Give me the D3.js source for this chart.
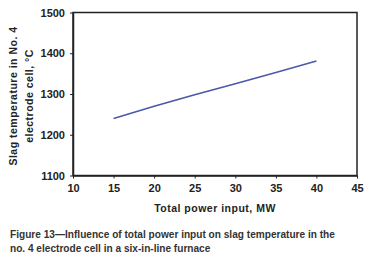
<!DOCTYPE html>
<html>
<head>
<meta charset="utf-8">
<script src="https://cdn.jsdelivr.net/npm/d3@7"></script>
<style>
  body { margin: 0; background: #fff; }
  svg { display: block; font-family: "Liberation Sans", Arial, sans-serif; }
</style>
</head>
<body>
<svg id="chart" width="370" height="266"></svg>
<script>
// power input, MW vs slag temperature, degC
var power = [15, 20, 25, 30, 35, 40];
var slagTemp = [1240, 1270, 1298, 1325, 1353, 1381];
var xTicks = [10, 15, 20, 25, 30, 35, 40, 45];
var yTicks = [1100, 1200, 1300, 1400, 1500];

var svg = d3.select("#chart");

var padding = {top: 12.5, right: 13, bottom: 90.5, left: 73};
var chartArea = {
    "width": 370 - padding.left - padding.right,
    "height": 266 - padding.top - padding.bottom
};

var xScale = d3.scaleLinear().domain([10, 45]).range([0, chartArea.width]);
var yScale = d3.scaleLinear().domain([1100, 1500]).range([chartArea.height, 0]);

var g = svg.append("g")
    .attr("transform", "translate(" + padding.left + "," + padding.top + ")");

// frame
g.append("rect")
    .attr("width", chartArea.width)
    .attr("height", chartArea.height)
    .attr("fill", "none")
    .attr("stroke", "#222")
    .attr("stroke-width", 1.5);

var xAxis = g.append("g")
    .attr("transform", "translate(0," + chartArea.height + ")")
    .call(d3.axisBottom(xScale).tickValues(xTicks).tickSize(3).tickPadding(6).tickSizeOuter(0));

var yAxis = g.append("g")
    .call(d3.axisLeft(yScale).tickValues(yTicks).tickFormat(d3.format("d"))
        .tickSize(3).tickPadding(5).tickSizeOuter(0));

[xAxis, yAxis].forEach(function (a) {
    a.select(".domain").attr("stroke", "#222").attr("stroke-width", 1.5);
    a.selectAll(".tick line").attr("stroke", "#222");
    a.selectAll(".tick text")
        .attr("fill", "#222")
        .style("font-size", "11px")
        .style("font-weight", "bold")
        .style("font-family", "'Liberation Sans', Arial, sans-serif");
});

var line = d3.line()
    .x(function (d, i) { return xScale(power[i]); })
    .y(function (d) { return yScale(d); });

g.append("path")
    .datum(slagTemp)
    .attr("d", line)
    .attr("fill", "none")
    .attr("stroke", "#4a58a8")
    .attr("stroke-width", 1.6);

// axis titles
svg.append("text")
    .attr("x", padding.left + chartArea.width / 2)
    .attr("y", 212)
    .attr("text-anchor", "middle")
    .attr("fill", "#222")
    .style("font-size", "10.5px")
    .style("font-weight", "bold")
    .style("letter-spacing", "0.5px")
    .text("Total power input, MW");

var yTitle = svg.append("text")
    .attr("transform", "translate(0," + (padding.top + chartArea.height / 2 + 2) + ") rotate(-90)")
    .attr("text-anchor", "middle")
    .attr("fill", "#222")
    .style("font-size", "10.5px")
    .style("font-weight", "bold")
    .style("letter-spacing", "0.5px");
yTitle.append("tspan").attr("x", 0).attr("y", 17).text("Slag temperature in No. 4");
yTitle.append("tspan").attr("x", 0).attr("y", 33).text("electrode cell, \u00B0C");

// caption, slightly condensed
var caption = svg.append("text")
    .attr("transform", "translate(10,0) scale(0.92,1)")
    .attr("fill", "#333")
    .style("font-size", "11px")
    .style("font-weight", "bold");
caption.append("tspan").attr("x", 0).attr("y", 238)
    .text("Figure 13\u2014Influence of total power input on slag temperature in the");
caption.append("tspan").attr("x", 0).attr("y", 252)
    .text("no. 4 electrode cell in a six-in-line furnace");
</script>
</body>
</html>
